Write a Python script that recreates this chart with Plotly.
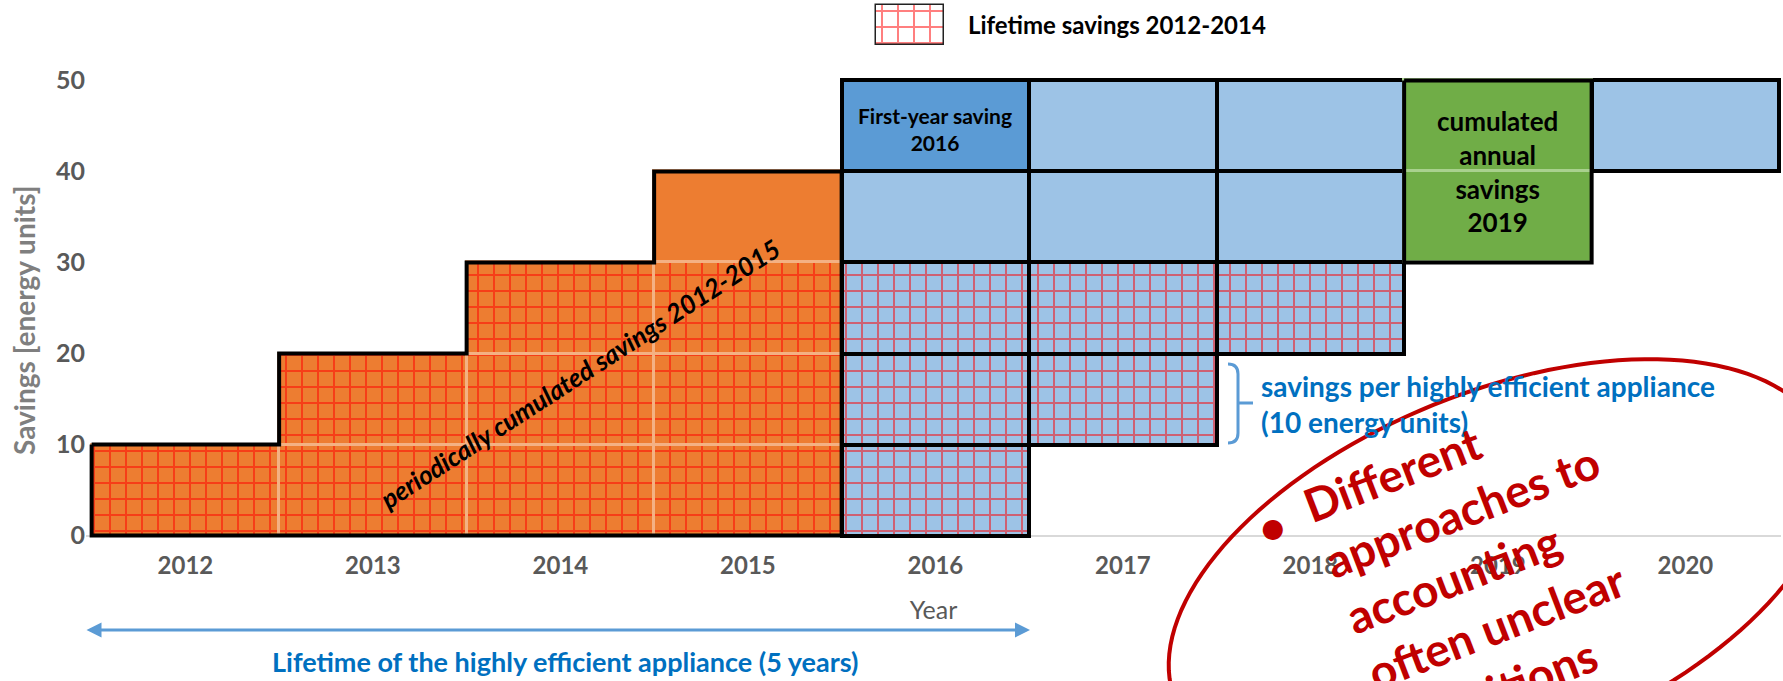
import numpy as np
import plotly.graph_objects as go

# ---------------- data ----------------
years = [2012, 2013, 2014, 2015, 2016, 2017, 2018, 2019, 2020]
y_ticks = [0, 10, 20, 30, 40, 50]
cell_savings = 10  # savings per highly efficient appliance (energy units)

orange_hatch_years = [2012, 2013, 2013, 2014, 2014, 2014, 2015, 2015, 2015]
orange_hatch_base = [0, 0, 10, 0, 10, 20, 0, 10, 20]
orange_plain_years = [2015]
orange_plain_base = [30]
blue_hatch_years = [2016, 2016, 2016, 2017, 2017, 2018]
blue_hatch_base = [0, 10, 20, 10, 20, 20]
blue_plain_years = [2016, 2017, 2017, 2018, 2018, 2020]
blue_plain_base = [30, 30, 40, 30, 40, 40]
first_year_years = [2016]
first_year_base = [40]
green_years = [2019, 2019]
green_base = [30, 40]
legend_swatch = [1]

# ---------------- layout helpers ----------------
W, H = 1783, 681
ML, MR, MT, MB = 86, 2, 1, 140
PW, PH = W - ML - MR, H - MT - MB


def px(x):
    return (x - ML) / PW


def py(y):
    return min(1.0, (H - MB - y) / PH)


FONT = "Lato, 'Open Sans', sans-serif"
ORANGE, PEACH = "#ED7D31", "#F4B183"
LBLUE, BLUE, GREEN, LGREEN = "#9DC3E6", "#5B9BD5", "#70AD47", "#A9D18E"
RED = "#FF0000"
DARKRED = "#C00000"
hatch = dict(shape="+", size=16, solidity=0.234375, fgcolor=RED, fillmode="overlay")


def cells(xs, bases, color, line_color, line_w, pattern=None):
    m = dict(color=color, line=dict(color=line_color, width=line_w))
    if pattern:
        m["pattern"] = pattern
    return go.Bar(x=xs, y=[cell_savings] * len(xs), base=bases, width=1, marker=m,
                  hoverinfo="skip", showlegend=False)


def outline(xs, bases):
    cols = sorted(set(xs))
    top = {c: max(b + cell_savings for x, b in zip(xs, bases) if x == c) for c in cols}
    bot = {c: min(b for x, b in zip(xs, bases) if x == c) for c in cols}
    X, Y = [], []
    for c in cols:
        X += [c - 0.5, c + 0.5]
        Y += [top[c], top[c]]
    for c in reversed(cols):
        X += [c + 0.5, c - 0.5]
        Y += [bot[c], bot[c]]
    X.append(X[0])
    Y.append(Y[0])
    return go.Scatter(x=X, y=Y, mode="lines", line=dict(color="black", width=4),
                      hoverinfo="skip", showlegend=False)


fig = go.Figure()
fig.add_trace(cells(orange_hatch_years, orange_hatch_base, ORANGE, PEACH, 3, hatch))
fig.add_trace(cells(orange_plain_years, orange_plain_base, ORANGE, PEACH, 3))
fig.add_trace(cells(blue_hatch_years, blue_hatch_base, LBLUE, "black", 4, hatch))
fig.add_trace(cells(blue_plain_years, blue_plain_base, LBLUE, "black", 4))
fig.add_trace(cells(first_year_years, first_year_base, BLUE, "black", 4))
fig.add_trace(cells(green_years, green_base, GREEN, LGREEN, 3))
fig.add_trace(outline(orange_hatch_years + orange_plain_years, orange_hatch_base + orange_plain_base))
fig.add_trace(outline(green_years, green_base))

# legend swatch drawn on a tiny axis pair
fig.add_trace(go.Bar(x=[0.5], y=legend_swatch, base=[0], width=1, xaxis="x2", yaxis="y2",
                     marker=dict(color="white", line=dict(color="#222222", width=1.5),
                                 pattern=dict(shape="+", size=16, solidity=0.234375,
                                              fgcolor=RED, fillmode="overlay")),
                     hoverinfo="skip", showlegend=False))

# ---------------- annotations ----------------
C = dict(xanchor="center", yanchor="middle", showarrow=False)
ann = []
ann.append(dict(x=px(24), y=py(321), xref="paper", yref="paper", textangle=-90,
                text="<b>Savings [energy units]</b>", **C,
                font=dict(family=FONT, size=28, color="#7F7F7F", weight="bold")))
ann.append(dict(x=first_year_years[0], y=first_year_base[0] + cell_savings / 2 - 0.3,
                xref="x", yref="y", text="First-year saving<br>2016", **C,
                font=dict(family=FONT, size=21, color="black", weight="bold")))
ann.append(dict(x=green_years[0], y=(min(green_base) + max(green_base) + cell_savings) / 2,
                xref="x", yref="y", text="cumulated<br>annual<br>savings<br>2019", **C,
                font=dict(family=FONT, size=26, color="black", weight="bold")))
ann.append(dict(x=2014.1, y=17.8, xref="x", yref="y",
                text="periodically cumulated savings 2012-2015", textangle=-33, **C,
                font=dict(family=FONT, size=26, color="black", weight="bold", style="italic")))
ann.append(dict(x=px(966), y=py(25), xref="paper", yref="paper", xanchor="left", yanchor="middle",
                text="Lifetime savings 2012-2014", showarrow=False,
                font=dict(family=FONT, size=24, color="black", weight="bold")))
ann.append(dict(x=px(1259), y=py(404), xref="paper", yref="paper", xanchor="left",
                yanchor="middle", align="left",
                text="savings per highly efficient appliance<br>(10 energy units)", showarrow=False,
                font=dict(family=FONT, size=28, color="#0070C0", weight="bold")))
ann.append(dict(x=px(565), y=py(661), xref="paper", yref="paper",
                text="Lifetime of the highly efficient appliance (5 years)", **C,
                font=dict(family=FONT, size=27, color="#0070C0", weight="bold")))
ann.append(dict(x=px(1030), y=py(630), xref="paper", yref="paper", ax=-(1030 - 85), ay=0,
                axref="pixel", ayref="pixel", text="", showarrow=True, arrowhead=2, arrowsize=1,
                arrowwidth=3, arrowcolor=BLUE, arrowside="end+start", standoff=0, startstandoff=0))
ann.append(dict(x=px(1483), y=py(567), xref="paper", yref="paper", textangle=-21, align="left",
                text="Different<br>approaches to<br>accounting<br>often unclear<br>definitions", **C,
                font=dict(family=FONT, size=46, color=DARKRED, weight="bold")))
ann.append(dict(x=px(1271), y=py(526), xref="paper", yref="paper", textangle=-21, text="•", **C,
                font=dict(family=FONT, size=46, color=DARKRED, weight="bold")))

# ---------------- shapes ----------------
cx, cy, a, b, phi = 1500, 570, 350, 178, np.radians(22)
t = np.linspace(0, 2 * np.pi, 145)
ex = cx + a * np.cos(t) * np.cos(phi) + b * np.sin(t) * np.sin(phi)
ey = cy - a * np.cos(t) * np.sin(phi) + b * np.sin(t) * np.cos(phi)
ell_path = "M " + " L ".join(f"{px(x):.5f},{(H - MB - y) / PH:.5f}" for x, y in zip(ex, ey)) + " Z"

br = [(1228, 364), (1238, 364), (1238, 374), (1238, 433), (1238, 443), (1228, 443)]
P = [f"{px(x):.5f},{py(y):.5f}" for x, y in br]
bracket_path = (f"M {P[0]} Q {P[1]} {P[2]} L {P[3]} Q {P[4]} {P[5]} "
                f"M {px(1238):.5f},{py(403):.5f} L {px(1253):.5f},{py(403):.5f}")

shapes = [
    dict(type="path", path=bracket_path, xref="paper", yref="paper",
         line=dict(color=BLUE, width=3)),
    dict(type="path", path=ell_path, xref="paper", yref="paper",
         line=dict(color=DARKRED, width=4), fillcolor="rgba(0,0,0,0)"),
]

fig.update_layout(
    width=W, height=H, margin=dict(l=ML, r=MR, t=MT, b=MB, autoexpand=False),
    paper_bgcolor="white", plot_bgcolor="white", barmode="overlay", bargap=0,
    hovermode=False, showlegend=False, annotations=ann, shapes=shapes,
    font=dict(family=FONT),
    xaxis=dict(range=[2011.47, 2020.51], tickvals=years, ticktext=[str(y) for y in years],
               ticks="outside", ticklen=3, tickcolor="rgba(0,0,0,0)", showgrid=False,
               zeroline=False, showline=False, automargin=False,
               tickfont=dict(family=FONT, size=24, color="#595959", weight="bold"),
               title=dict(text="Year", standoff=23,
                          font=dict(family=FONT, size=25, color="#595959"))),
    yaxis=dict(domain=[0, py(75)], range=[-0.6, 50.6], tickvals=y_ticks,
               ticks="", showgrid=False,
               zeroline=True, zerolinecolor="#D9D9D9", zerolinewidth=1.5, showline=False,
               automargin=False,
               tickfont=dict(family=FONT, size=25, color="#595959", weight="bold")),
    xaxis2=dict(domain=[px(874), px(946)], range=[-0.03, 1.03], anchor="y2", visible=False,
                fixedrange=True),
    yaxis2=dict(domain=[py(47), py(3)], range=[-0.04, 1.04], anchor="x2", visible=False,
                fixedrange=True),
)

fig.write_html("out.html", config={"displayModeBar": False},
               post_script="document.body.style.margin='0px';")
